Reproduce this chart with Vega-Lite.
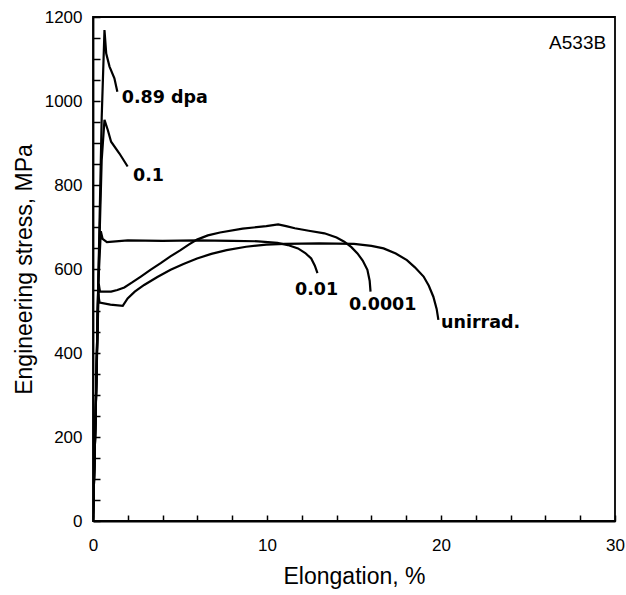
{
  "$schema": "https://vega.github.io/schema/vega-lite/v6.json",
  "autosize": {"type": "none"},
  "padding": {"left": 93, "top": 17, "right": 11, "bottom": 74},
  "width": 522,
  "height": 504,
  "background": "white",
  "config": {
    "view": {"stroke": "black", "strokeWidth": 1.8},
    "font": "Liberation Sans",
    "axis": {"domainColor": "black", "tickColor": "black", "labelColor": "black", "titleColor": "black", "grid": false, "labelFontSize": 17, "titleFontSize": 23, "titleFontWeight": "normal", "domainWidth": 1.8, "tickWidth": 1.5, "labelOverlap": false, "labelFlush": false, "tickCount": 100}
  },
  "datasets": {
    "curves": [
      {"s": "unirrad", "i": 0, "e": 0, "v": 0},
      {"s": "unirrad", "i": 1, "e": 0.15, "v": 250},
      {"s": "unirrad", "i": 2, "e": 0.3, "v": 540},
      {"s": "unirrad", "i": 3, "e": 0.38, "v": 520},
      {"s": "unirrad", "i": 4, "e": 1.0, "v": 515},
      {"s": "unirrad", "i": 5, "e": 1.71, "v": 512},
      {"s": "unirrad", "i": 6, "e": 1.99, "v": 530},
      {"s": "unirrad", "i": 7, "e": 2.4, "v": 546},
      {"s": "unirrad", "i": 8, "e": 2.94, "v": 562},
      {"s": "unirrad", "i": 9, "e": 3.7, "v": 581},
      {"s": "unirrad", "i": 10, "e": 4.46, "v": 598},
      {"s": "unirrad", "i": 11, "e": 5.2, "v": 612},
      {"s": "unirrad", "i": 12, "e": 5.98, "v": 625},
      {"s": "unirrad", "i": 13, "e": 6.8, "v": 636},
      {"s": "unirrad", "i": 14, "e": 7.68, "v": 645},
      {"s": "unirrad", "i": 15, "e": 8.8, "v": 653},
      {"s": "unirrad", "i": 16, "e": 9.96, "v": 658},
      {"s": "unirrad", "i": 17, "e": 11.0, "v": 660},
      {"s": "unirrad", "i": 18, "e": 13.0, "v": 661},
      {"s": "unirrad", "i": 19, "e": 15.0, "v": 660},
      {"s": "unirrad", "i": 20, "e": 16.0, "v": 655},
      {"s": "unirrad", "i": 21, "e": 16.7, "v": 649},
      {"s": "unirrad", "i": 22, "e": 17.4, "v": 637},
      {"s": "unirrad", "i": 23, "e": 18.04, "v": 621},
      {"s": "unirrad", "i": 24, "e": 18.5, "v": 604},
      {"s": "unirrad", "i": 25, "e": 19.0, "v": 582},
      {"s": "unirrad", "i": 26, "e": 19.3, "v": 560},
      {"s": "unirrad", "i": 27, "e": 19.56, "v": 534},
      {"s": "unirrad", "i": 28, "e": 19.75, "v": 505},
      {"s": "unirrad", "i": 29, "e": 19.85, "v": 479},
      {"s": "0.0001", "i": 0, "e": 0, "v": 0},
      {"s": "0.0001", "i": 1, "e": 0.15, "v": 250},
      {"s": "0.0001", "i": 2, "e": 0.33, "v": 565},
      {"s": "0.0001", "i": 3, "e": 0.4, "v": 546},
      {"s": "0.0001", "i": 4, "e": 1.04, "v": 546},
      {"s": "0.0001", "i": 5, "e": 1.4, "v": 550},
      {"s": "0.0001", "i": 6, "e": 1.8, "v": 556},
      {"s": "0.0001", "i": 7, "e": 2.25, "v": 568},
      {"s": "0.0001", "i": 8, "e": 2.75, "v": 582},
      {"s": "0.0001", "i": 9, "e": 3.3, "v": 598},
      {"s": "0.0001", "i": 10, "e": 3.89, "v": 614},
      {"s": "0.0001", "i": 11, "e": 4.45, "v": 630},
      {"s": "0.0001", "i": 12, "e": 5.03, "v": 645},
      {"s": "0.0001", "i": 13, "e": 5.5, "v": 658},
      {"s": "0.0001", "i": 14, "e": 5.98, "v": 670},
      {"s": "0.0001", "i": 15, "e": 6.6, "v": 680},
      {"s": "0.0001", "i": 16, "e": 7.3, "v": 687},
      {"s": "0.0001", "i": 17, "e": 8.6, "v": 696},
      {"s": "0.0001", "i": 18, "e": 9.96, "v": 702},
      {"s": "0.0001", "i": 19, "e": 10.64, "v": 706},
      {"s": "0.0001", "i": 20, "e": 11.1, "v": 702},
      {"s": "0.0001", "i": 21, "e": 11.6, "v": 697},
      {"s": "0.0001", "i": 22, "e": 12.4, "v": 691},
      {"s": "0.0001", "i": 23, "e": 13.3, "v": 685},
      {"s": "0.0001", "i": 24, "e": 14.0, "v": 675},
      {"s": "0.0001", "i": 25, "e": 14.44, "v": 665},
      {"s": "0.0001", "i": 26, "e": 14.85, "v": 652},
      {"s": "0.0001", "i": 27, "e": 15.2, "v": 637},
      {"s": "0.0001", "i": 28, "e": 15.5, "v": 620},
      {"s": "0.0001", "i": 29, "e": 15.77, "v": 598},
      {"s": "0.0001", "i": 30, "e": 15.9, "v": 572},
      {"s": "0.0001", "i": 31, "e": 15.95, "v": 546},
      {"s": "0.01", "i": 0, "e": 0, "v": 0},
      {"s": "0.01", "i": 1, "e": 0.15, "v": 250},
      {"s": "0.01", "i": 2, "e": 0.3, "v": 560},
      {"s": "0.01", "i": 3, "e": 0.45, "v": 690},
      {"s": "0.01", "i": 4, "e": 0.55, "v": 672},
      {"s": "0.01", "i": 5, "e": 0.8, "v": 664},
      {"s": "0.01", "i": 6, "e": 2.0, "v": 668},
      {"s": "0.01", "i": 7, "e": 4.0, "v": 667},
      {"s": "0.01", "i": 8, "e": 6.0, "v": 668},
      {"s": "0.01", "i": 9, "e": 8.0, "v": 667},
      {"s": "0.01", "i": 10, "e": 9.5, "v": 666},
      {"s": "0.01", "i": 11, "e": 10.6, "v": 662},
      {"s": "0.01", "i": 12, "e": 11.2, "v": 657},
      {"s": "0.01", "i": 13, "e": 11.78, "v": 649},
      {"s": "0.01", "i": 14, "e": 12.2, "v": 638},
      {"s": "0.01", "i": 15, "e": 12.54, "v": 625},
      {"s": "0.01", "i": 16, "e": 12.75, "v": 608},
      {"s": "0.01", "i": 17, "e": 12.9, "v": 590},
      {"s": "0.1", "i": 0, "e": 0, "v": 0},
      {"s": "0.1", "i": 1, "e": 0.15, "v": 250},
      {"s": "0.1", "i": 2, "e": 0.3, "v": 560},
      {"s": "0.1", "i": 3, "e": 0.5, "v": 860},
      {"s": "0.1", "i": 4, "e": 0.66, "v": 955},
      {"s": "0.1", "i": 5, "e": 0.85, "v": 931},
      {"s": "0.1", "i": 6, "e": 1.04, "v": 903},
      {"s": "0.1", "i": 7, "e": 1.52, "v": 875},
      {"s": "0.1", "i": 8, "e": 1.99, "v": 844},
      {"s": "0.89", "i": 0, "e": 0, "v": 0},
      {"s": "0.89", "i": 1, "e": 0.15, "v": 250},
      {"s": "0.89", "i": 2, "e": 0.3, "v": 560},
      {"s": "0.89", "i": 3, "e": 0.5, "v": 960},
      {"s": "0.89", "i": 4, "e": 0.66, "v": 1169},
      {"s": "0.89", "i": 5, "e": 0.76, "v": 1113},
      {"s": "0.89", "i": 6, "e": 0.95, "v": 1082},
      {"s": "0.89", "i": 7, "e": 1.23, "v": 1054},
      {"s": "0.89", "i": 8, "e": 1.4, "v": 1022}
    ],
    "labels": [
      {"t": "0.89 dpa", "e": 1.65, "v": 1008, "w": "bold", "a": "left"},
      {"t": "0.1", "e": 2.3, "v": 822, "w": "bold", "a": "left"},
      {"t": "0.01", "e": 12.85, "v": 550, "w": "bold", "a": "center"},
      {"t": "0.0001", "e": 16.65, "v": 514, "w": "bold", "a": "center"},
      {"t": "unirrad.", "e": 20.0, "v": 472, "w": "bold", "a": "left"},
      {"t": "A533B", "e": 27.85, "v": 1137, "w": "normal", "a": "center"}
    ]
  },
  "layer": [
    {
      "data": {"name": "curves"},
      "mark": {"type": "line", "color": "black", "strokeWidth": 2.2, "clip": true},
      "encoding": {
        "x": {"field": "e", "type": "quantitative", "scale": {"domain": [0, 30], "nice": false},
          "axis": {"title": "Elongation, %", "format": "d", "tickCount": 100, "values": [0,2,4,6,8,10,12,14,16,18,20,22,24,26,28,30], "labelExpr": "datum.value % 10 === 0 ? datum.label : ''", "tickSize": -6, "labelPadding": 22, "titlePadding": 12}},
        "y": {"field": "v", "type": "quantitative", "scale": {"domain": [0, 1200], "nice": false},
          "axis": {"title": "Engineering stress, MPa", "format": "d", "tickCount": 100, "values": [0,50,100,150,200,250,300,350,400,450,500,550,600,650,700,750,800,850,900,950,1000,1050,1100,1150,1200], "labelExpr": "datum.value % 200 === 0 ? datum.label : ''", "tickSize": -7, "labelPadding": 18, "titlePadding": 8}},
        "detail": {"field": "s"},
        "order": {"field": "i", "type": "quantitative"}
      }
    },
    {
      "data": {"name": "labels"},
      "transform": [{"filter": "datum.a === 'left'"}],
      "mark": {"type": "text", "align": "left", "baseline": "middle", "fontSize": 17.5, "fontWeight": "bold", "font": "DejaVu Sans", "color": "black"},
      "encoding": {
        "x": {"field": "e", "type": "quantitative"},
        "y": {"field": "v", "type": "quantitative"},
        "text": {"field": "t"}
      }
    },
    {
      "data": {"name": "labels"},
      "transform": [{"filter": "datum.a === 'center' && datum.w === 'bold'"}],
      "mark": {"type": "text", "align": "center", "baseline": "middle", "fontSize": 17.5, "fontWeight": "bold", "font": "DejaVu Sans", "color": "black"},
      "encoding": {
        "x": {"field": "e", "type": "quantitative"},
        "y": {"field": "v", "type": "quantitative"},
        "text": {"field": "t"}
      }
    },
    {
      "data": {"name": "labels"},
      "transform": [{"filter": "datum.w === 'normal'"}],
      "mark": {"type": "text", "align": "center", "baseline": "middle", "fontSize": 19, "color": "black"},
      "encoding": {
        "x": {"field": "e", "type": "quantitative"},
        "y": {"field": "v", "type": "quantitative"},
        "text": {"field": "t"}
      }
    }
  ]
}
